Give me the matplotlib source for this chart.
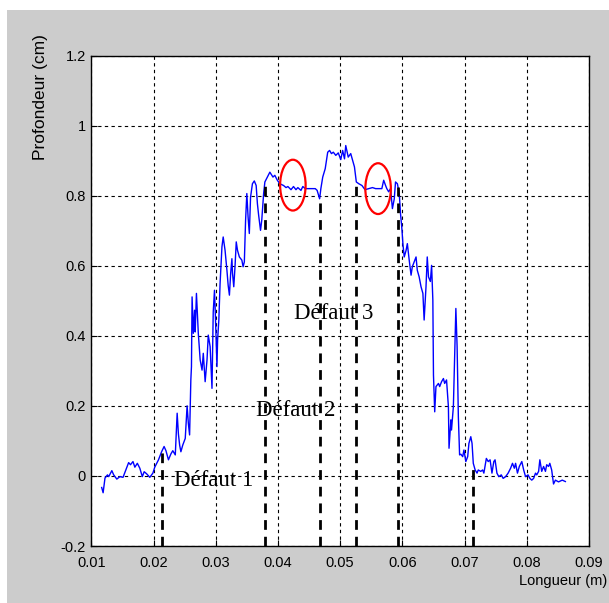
import numpy as np
import matplotlib
matplotlib.use("Agg")
import matplotlib.pyplot as plt
from matplotlib.patches import Ellipse, Rectangle

# Measured surface profile: position along the piece (m) and depth (cm)
longueur = [
    0.01167, 0.0119, 0.0122, 0.0126, 0.0128, 0.0133, 0.0136, 0.0141, 0.0146, 0.0151,
    0.0156, 0.0160, 0.0163, 0.0167, 0.0170, 0.0174, 0.0178, 0.0182, 0.0185, 0.0189,
    0.0194, 0.0199, 0.0202, 0.0208, 0.0213, 0.0217, 0.0220, 0.0224, 0.0228, 0.0231,
    0.0235, 0.0238, 0.0240, 0.0242, 0.0244, 0.0247, 0.0251, 0.0254, 0.0256, 0.0258,
    0.0260, 0.0261, 0.0262, 0.0264, 0.0266, 0.0267, 0.0269, 0.0272, 0.0275, 0.0278,
    0.0280, 0.0283, 0.0286, 0.0288, 0.0291, 0.0294, 0.0296, 0.0298, 0.0299, 0.0302,
    0.0303, 0.0305, 0.0307, 0.0310, 0.0312, 0.0315, 0.0318, 0.0320, 0.0322, 0.0324,
    0.0326, 0.0327, 0.0329, 0.0331, 0.0333, 0.0335, 0.0338, 0.0342, 0.0344, 0.0346,
    0.0348, 0.0350, 0.0352, 0.0354, 0.0356, 0.0359, 0.0362, 0.0365, 0.0367, 0.0369,
    0.0372, 0.0374, 0.0377, 0.0379, 0.0383, 0.0387, 0.0392, 0.0395, 0.0399, 0.0403,
    0.0409, 0.0413, 0.0416, 0.0421, 0.0425, 0.0429, 0.0432, 0.0437, 0.0440, 0.0444,
    0.0452, 0.0460, 0.0463, 0.0467, 0.0469, 0.0472, 0.0476, 0.0480, 0.0483, 0.0486,
    0.0489, 0.0493, 0.0497, 0.0501, 0.0504, 0.0507, 0.0509, 0.0513, 0.0517, 0.0520,
    0.0523, 0.0526, 0.0530, 0.0535, 0.0540, 0.0546, 0.0552, 0.0557, 0.0562, 0.0567,
    0.0570, 0.0573, 0.0575, 0.0578, 0.0581, 0.0584, 0.0587, 0.0589, 0.0592, 0.0595,
    0.0597, 0.0599, 0.0601, 0.0603, 0.0606, 0.0608, 0.0611, 0.0614, 0.0616, 0.0619,
    0.0622, 0.0624, 0.0627, 0.0630, 0.0633, 0.0635, 0.0638, 0.0640, 0.0642, 0.0645,
    0.0647, 0.0649, 0.0650, 0.0652, 0.0654, 0.0658, 0.0660, 0.0663, 0.0666, 0.0668,
    0.0671, 0.0674, 0.0675, 0.0678, 0.0679, 0.0682, 0.0685, 0.0686, 0.0688, 0.0690,
    0.0692, 0.0694, 0.0697, 0.0699, 0.0702, 0.0705, 0.0707, 0.0710, 0.0712, 0.0714,
    0.0717, 0.0720, 0.0722, 0.0726, 0.0729, 0.0731, 0.0735, 0.0738, 0.0741, 0.0744,
    0.0747, 0.0749, 0.0752, 0.0755, 0.0759, 0.0762, 0.0766, 0.0770, 0.0774, 0.0777,
    0.0780, 0.0782, 0.0785, 0.0788, 0.0792, 0.0795, 0.0798, 0.0802, 0.0805, 0.0808,
    0.0811, 0.0814, 0.0816, 0.0819, 0.0821, 0.0824, 0.0827, 0.0830, 0.0832, 0.0835,
    0.0837, 0.0840, 0.0843, 0.0846, 0.0851, 0.0857, 0.0862,
]
profondeur = [
    -0.033, -0.048, -0.006, 0.003, -0.002, 0.015, 0.003, -0.009, -0.002, -0.004,
    0.019, 0.038, 0.032, 0.041, 0.025, 0.036, 0.022, -0.002, 0.012, 0.006,
    -0.004, 0.008, 0.025, 0.046, 0.069, 0.084, 0.072, 0.046, 0.063, 0.072,
    0.060, 0.179, 0.120, 0.088, 0.069, 0.088, 0.107, 0.200, 0.150, 0.117,
    0.274, 0.312, 0.511, 0.407, 0.473, 0.411, 0.521, 0.407, 0.331, 0.302,
    0.350, 0.269, 0.331, 0.402, 0.369, 0.250, 0.468, 0.530, 0.483, 0.312,
    0.388, 0.445, 0.549, 0.654, 0.682, 0.644, 0.587, 0.544, 0.516, 0.578,
    0.620, 0.578, 0.540, 0.597, 0.668, 0.644, 0.625, 0.616, 0.597, 0.611,
    0.730, 0.806, 0.739, 0.692, 0.796, 0.834, 0.842, 0.829, 0.777, 0.744,
    0.701, 0.730, 0.806, 0.839, 0.853, 0.867, 0.853, 0.858, 0.844, 0.834,
    0.829, 0.823, 0.826, 0.817, 0.826, 0.817, 0.823, 0.815, 0.826, 0.820,
    0.820, 0.820, 0.815, 0.791, 0.820, 0.853, 0.877, 0.924, 0.929, 0.920,
    0.924, 0.915, 0.922, 0.903, 0.929, 0.905, 0.943, 0.910, 0.920, 0.901,
    0.882, 0.839, 0.834, 0.829, 0.817, 0.820, 0.823, 0.820, 0.820, 0.820,
    0.844, 0.829, 0.820, 0.811, 0.820, 0.763, 0.791, 0.839, 0.834, 0.806,
    0.749, 0.711, 0.660, 0.625, 0.644, 0.663, 0.616, 0.573, 0.597, 0.611,
    0.625, 0.587, 0.568, 0.540, 0.521, 0.445, 0.540, 0.625, 0.568, 0.555,
    0.601, 0.502, 0.288, 0.183, 0.255, 0.264, 0.255, 0.269, 0.278, 0.264,
    0.274, 0.198, 0.079, 0.160, 0.131, 0.198, 0.407, 0.478, 0.369, 0.169,
    0.060, 0.062, 0.055, 0.074, 0.041, 0.055, 0.093, 0.112, 0.093, 0.036,
    0.017, 0.008, 0.017, 0.013, 0.017, 0.008, 0.050, 0.041, 0.046, 0.008,
    0.041, 0.046, 0.008, -0.002, 0.003, -0.007, -0.002, 0.008, 0.022, 0.036,
    0.022, 0.036, 0.008, 0.027, 0.041, 0.017, -0.002, 0.003, -0.007, -0.012,
    -0.007, 0.008, 0.003, 0.013, 0.046, 0.013, 0.027, 0.013, 0.032, 0.027,
    0.036, 0.017, -0.023, -0.012, -0.017, -0.012, -0.016,
]

# Boundaries of the defect zones (m)
limites_defauts = [0.0213, 0.0380, 0.0467, 0.0526, 0.0593, 0.0714]

# Defect annotations
etiquettes = ["Défaut 1", "Défaut 2", "Défaut 3"]
etiquettes_x = [0.0297, 0.0429, 0.0489]
etiquettes_y = [-0.014, 0.188, 0.465]

# Highlighted flat regions (centre x, centre y)
zones_x = [0.0424, 0.0561]
zones_y = [0.830, 0.820]

x_ticks = [0.01, 0.02, 0.03, 0.04, 0.05, 0.06, 0.07, 0.08, 0.09]
x_tick_labels = ["0.01", "0.02", "0.03", "0.04", "0.05", "0.06", "0.07", "0.08", "0.09"]
y_ticks = [-0.2, 0, 0.2, 0.4, 0.6, 0.8, 1, 1.2]
y_tick_labels = ["-0.2", "0", "0.2", "0.4", "0.6", "0.8", "1", "1.2"]

sans = ["Liberation Sans", "DejaVu Sans"]
serif = ["Liberation Serif", "DejaVu Serif"]

W, H = 609, 603
fig = plt.figure(figsize=(W / 100, H / 100), dpi=100, facecolor="white")

# grey window background, behind the axes
fig.patches.append(Rectangle((7 / W, 0), 1 - 7 / W, 1 - 10 / H,
                             transform=fig.transFigure, facecolor="#cccccc",
                             edgecolor="none", zorder=-10))

ax = fig.add_axes([91.3 / W, (H - 546) / H, (589 - 91.3) / W, (546 - 55.5) / H])
ax.set_zorder(1)
ax.set_facecolor("white")
ax.set_xlim(0.01, 0.09)
ax.set_ylim(-0.2, 1.2)

ax.set_xticks(x_ticks)
ax.set_xticklabels(x_tick_labels, fontfamily=sans, fontsize=10.5)
ax.set_yticks(y_ticks)
ax.set_yticklabels(y_tick_labels, fontfamily=sans, fontsize=10.5)
ax.tick_params(direction="in", length=4, width=0.8, colors="black")
ax.tick_params(axis="x", pad=7)
ax.tick_params(axis="y", pad=4)
ax.grid(True, color="black", linestyle=(0, (3, 3)), linewidth=0.8)
ax.set_axisbelow(False)
for s in ax.spines.values():
    s.set_linewidth(1.0)
    s.set_color("black")

x = np.array(longueur)
y = np.array(profondeur)
ax.plot(x, y, color="#0000ff", linewidth=1.0, zorder=4)

# vertical dashed boundaries from the profile down to the axis
for xb in limites_defauts:
    ytop = np.interp(xb, x, y)
    ax.plot([xb, xb], [-0.2, ytop], color="black", linewidth=2.0,
            linestyle=(0, (3.5, 2.5)), zorder=5)

for t, tx, ty in zip(etiquettes, etiquettes_x, etiquettes_y):
    ax.text(tx, ty, t, fontfamily=serif, fontsize=16.5, ha="center", va="center",
            zorder=6)

for cx, cy in zip(zones_x, zones_y):
    ax.add_patch(Ellipse((cx, cy), width=0.0041, height=0.145, fill=False,
                         edgecolor="red", linewidth=1.6, zorder=7))

fig.text(40 / W, 1 - 97 / H, "Profondeur (cm)", rotation=90, ha="center",
         va="center", fontfamily=sans, fontsize=12.5)
fig.text(607 / W, 1 - 581 / H, "Longueur (m)", ha="right", va="center",
         fontfamily=sans, fontsize=10.5)

fig.savefig("out.png", dpi=100, facecolor=fig.get_facecolor())
